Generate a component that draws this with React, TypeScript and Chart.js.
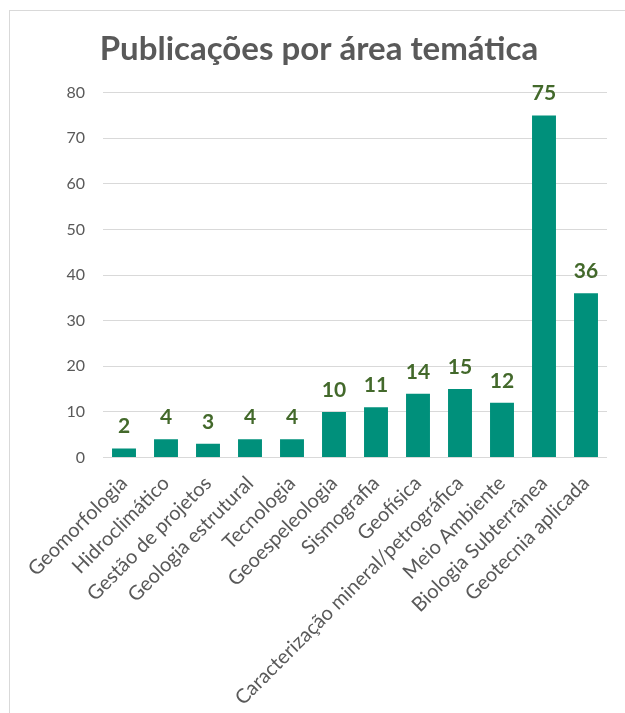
import React, { useEffect, useRef } from "react";
import { Chart, registerables } from "chart.js";

Chart.register(...registerables);

const categories = [
  "Geomorfologia",
  "Hidroclimático",
  "Gestão de projetos",
  "Geologia estrutural",
  "Tecnologia",
  "Geoespeleologia",
  "Sismografia",
  "Geofísica",
  "Caracterização mineral/petrográfica",
  "Meio Ambiente",
  "Biologia Subterrânea",
  "Geotecnia aplicada",
];
const publicacoes = [2, 4, 3, 4, 4, 10, 11, 14, 15, 12, 75, 36];
const yTicks = { min: 0, max: 80, step: 10 };
const titleText = "Publicações por área temática";

const FONT = "Lato, 'Open Sans', sans-serif";

const dataLabels = {
  id: "dataLabels",
  afterDatasetsDraw(chart: any) {
    const ctx = chart.ctx;
    const meta = chart.getDatasetMeta(0);
    const data = chart.data.datasets[0].data;
    ctx.save();
    ctx.font = `bold 21px ${FONT}`;
    ctx.fillStyle = "#43692B";
    ctx.textAlign = "center";
    ctx.textBaseline = "alphabetic";
    meta.data.forEach((bar: any, i: number) => {
      ctx.fillText(String(data[i]), bar.x, bar.y - 15);
    });
    ctx.restore();
  },
};

export default function App() {
  const ref = useRef<HTMLCanvasElement | null>(null);
  useEffect(() => {
    let chart: Chart | null = null;
    let cancelled = false;
    const make = () => {
      if (cancelled || !ref.current) return;
      chart = new Chart(ref.current, {
        type: "bar",
        data: {
          labels: categories,
          datasets: [
            {
              data: publicacoes,
              backgroundColor: "#00907B",
              borderWidth: 0,
              barPercentage: 0.57,
              categoryPercentage: 1,
            },
          ],
        },
        options: {
          responsive: false,
          animation: false,
          layout: { padding: { left: 13, right: 0, top: 0, bottom: 0 } },
          plugins: {
            legend: { display: false },
            tooltip: { enabled: false },
            title: {
              display: true,
              text: titleText,
              color: "#595959",
              font: { family: FONT, size: 33, weight: "bold" },
              padding: { top: 30, bottom: 23 },
            },
          },
          scales: {
            x: {
              grid: { display: false },
              border: { display: false },
              ticks: {
                color: "#595959",
                font: { family: FONT, size: 20 },
                maxRotation: 45,
                minRotation: 45,
                autoSkip: false,
                padding: 6,
              },
              afterFit: (s: any) => {
                s.height = 255.5;
              },
            },
            y: {
              min: yTicks.min,
              max: yTicks.max,
              grid: { color: "#D9D9D9", lineWidth: 1, drawTicks: false },
              border: { display: false },
              ticks: {
                stepSize: yTicks.step,
                color: "#595959",
                font: { family: FONT, size: 16 },
                padding: 18,
              },
              afterFit: (s: any) => {
                s.width = 90;
              },
            },
            yRight: {
              type: "linear",
              position: "right",
              display: true,
              grid: { display: false },
              border: { display: false },
              ticks: { display: false },
              afterFit: (s: any) => {
                s.width = 18;
              },
            },
          },
        },
        plugins: [dataLabels],
      });
    };
    const fontsReady = (document as any).fonts
      ? Promise.all([
          (document as any).fonts.load(`bold 30px Lato`),
          (document as any).fonts.load(`16px Lato`),
        ]).catch(() => null)
      : Promise.resolve();
    fontsReady.then(make);
    return () => {
      cancelled = true;
      if (chart) chart.destroy();
    };
  }, []);
  return (
    <div style={{ position: "absolute", left: 0, top: 0, width: 625, height: 713, overflow: "hidden" }}>
      <div
        style={{
          position: "absolute",
          left: 9,
          top: 10,
          width: 616,
          height: 703,
          borderTop: "1px solid #D9D9D9",
          borderLeft: "1px solid #D9D9D9",
          boxSizing: "border-box",
        }}
      />
      <canvas ref={ref} width={625} height={713} style={{ position: "absolute", left: 0, top: 0 }} />
    </div>
  );
}
